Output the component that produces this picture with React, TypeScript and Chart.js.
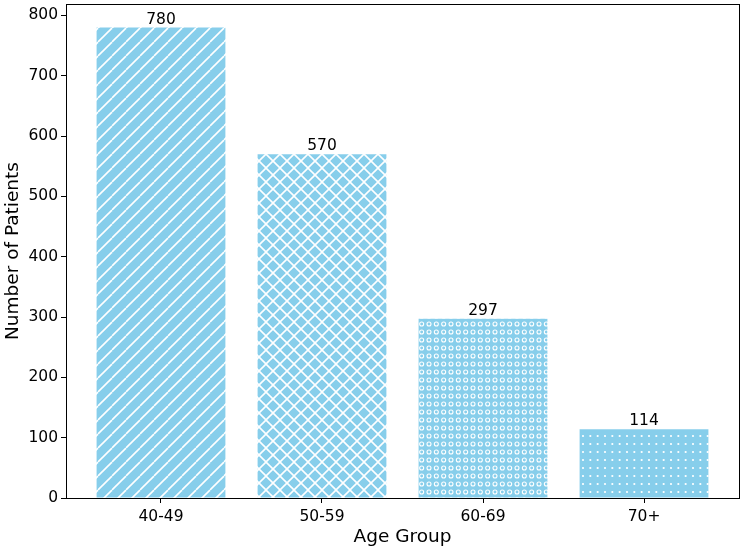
import { useEffect, useRef } from "react";
import { Chart, ChartConfiguration, registerables } from "chart.js";
Chart.register(...registerables);

// chart data
const ageGroups = ["40-49", "50-59", "60-69", "70+"];
const patientCounts = [780, 570, 297, 114];
const hatchKinds = ["/", "x", "o", "."];

const BAR_COLOR = "#87CEEB";
const FONT = "'DejaVu Sans', sans-serif";

// builds a matplotlib-like hatch fill for one bar
function makeHatch(kind: string): CanvasPattern | string {
  const tile = document.createElement("canvas");
  const isLine = kind === "/" || kind === "x";
  const w = isLine ? 14 : 22;
  const h = isLine ? 14 : 8;
  tile.width = w;
  tile.height = h;
  const g = tile.getContext("2d");
  if (!g) return BAR_COLOR;
  g.fillStyle = BAR_COLOR;
  g.fillRect(0, 0, w, h);
  g.strokeStyle = "#ffffff";
  g.fillStyle = "#ffffff";
  if (isLine) {
    g.lineWidth = 1.6;
    for (let k = -1; k <= 1; k++) {
      g.beginPath();
      g.moveTo(k * w, h);
      g.lineTo(k * w + w, 0);
      g.stroke();
      if (kind === "x") {
        g.beginPath();
        g.moveTo(k * w, 0);
        g.lineTo(k * w + w, h);
        g.stroke();
      }
    }
  } else {
    for (let i = 0; i < 3; i++) {
      const cx = (i + 0.5) * (w / 3);
      const cy = h / 2;
      g.beginPath();
      if (kind === "o") {
        g.lineWidth = 1.1;
        g.arc(cx, cy, 2, 0, Math.PI * 2);
        g.stroke();
      } else {
        g.arc(cx, cy, 1.1, 0, Math.PI * 2);
        g.fill();
      }
    }
  }
  return g.createPattern(tile, "repeat") ?? BAR_COLOR;
}

// frame around the plot area plus the value labels over the bars
const framePlugin = {
  id: "frameAndLabels",
  afterDatasetsDraw(chart: any) {
    const { ctx, chartArea } = chart;
    ctx.save();
    ctx.strokeStyle = "#000";
    ctx.lineWidth = 1;
    ctx.strokeRect(
      Math.round(chartArea.left) + 0.5,
      Math.round(chartArea.top) + 0.5,
      Math.round(chartArea.right - chartArea.left),
      Math.round(chartArea.bottom - chartArea.top)
    );
    ctx.fillStyle = "#000";
    ctx.font = `15.5px ${FONT}`;
    ctx.textAlign = "center";
    ctx.textBaseline = "alphabetic";
    chart.getDatasetMeta(0).data.forEach((bar: any, i: number) => {
      ctx.fillText(String(patientCounts[i]), bar.x, bar.y - 4);
    });
    ctx.restore();
  },
};

export default function App() {
  const canvasRef = useRef<HTMLCanvasElement | null>(null);
  const chartRef = useRef<Chart<"bar"> | null>(null);

  useEffect(() => {
    document.body.style.margin = "0";
    const config: ChartConfiguration<"bar"> = {
      type: "bar",
      data: {
        datasets: [
          {
            label: "Number of Patients",
            data: patientCounts.map((v, i) => ({ x: i, y: v })) as any,
            backgroundColor: hatchKinds.map(makeHatch) as any,
            borderWidth: 0,
            barPercentage: 0.8,
            categoryPercentage: 1,
          },
        ],
      },
      options: {
        responsive: false,
        animation: false,
        layout: { padding: { top: 4, right: 5, left: 0, bottom: 0 } },
        plugins: {
          legend: { display: false },
          tooltip: { enabled: false },
        },
        scales: {
          x: {
            type: "linear",
            min: -0.59,
            max: 3.59,
            offset: false,
            afterBuildTicks: (scale: any) => {
              scale.ticks = ageGroups.map((_, i) => ({ value: i }));
            },
            afterFit: (scale: any) => {
              scale.height = 53;
              scale.paddingLeft = 0;
              scale.paddingRight = 0;
            },
            ticks: {
              autoSkip: false,
              maxRotation: 0,
              padding: 5,
              color: "#000",
              font: { family: FONT, size: 15.5 },
              callback: (v: any) => ageGroups[Number(v)] ?? "",
            },
            grid: {
              offset: false,
              drawOnChartArea: false,
              tickLength: 5,
              color: "#000",
            },
            border: { display: true, color: "#000" },
            title: {
              display: true,
              text: "Age Group",
              color: "#000",
              font: { family: FONT, size: 18.5 },
              padding: { top: 2, bottom: 3 },
            },
          },
          y: {
            min: 0,
            max: 819,
            afterFit: (scale: any) => {
              scale.width = 66;
              scale.paddingTop = 0;
              scale.paddingBottom = 0;
            },
            ticks: {
              stepSize: 100,
              includeBounds: false,
              padding: 3,
              color: "#000",
              font: { family: FONT, size: 15.5 },
            },
            grid: {
              drawOnChartArea: false,
              tickLength: 5,
              color: "#000",
            },
            border: { display: true, color: "#000" },
            title: {
              display: true,
              text: "Number of Patients",
              color: "#000",
              font: { family: FONT, size: 18.5 },
              padding: { top: 2, bottom: 2 },
            },
          },
        },
      },
      plugins: [framePlugin],
    };

    if (canvasRef.current) {
      chartRef.current = new Chart(canvasRef.current, config);
    }

    return () => {
      if (chartRef.current) {
        chartRef.current.destroy();
      }
    };
  }, []);

  return (
    <div style={{ width: "744px", height: "551px", background: "#fff" }}>
      <canvas ref={canvasRef} width={744} height={551} />
    </div>
  );
}
